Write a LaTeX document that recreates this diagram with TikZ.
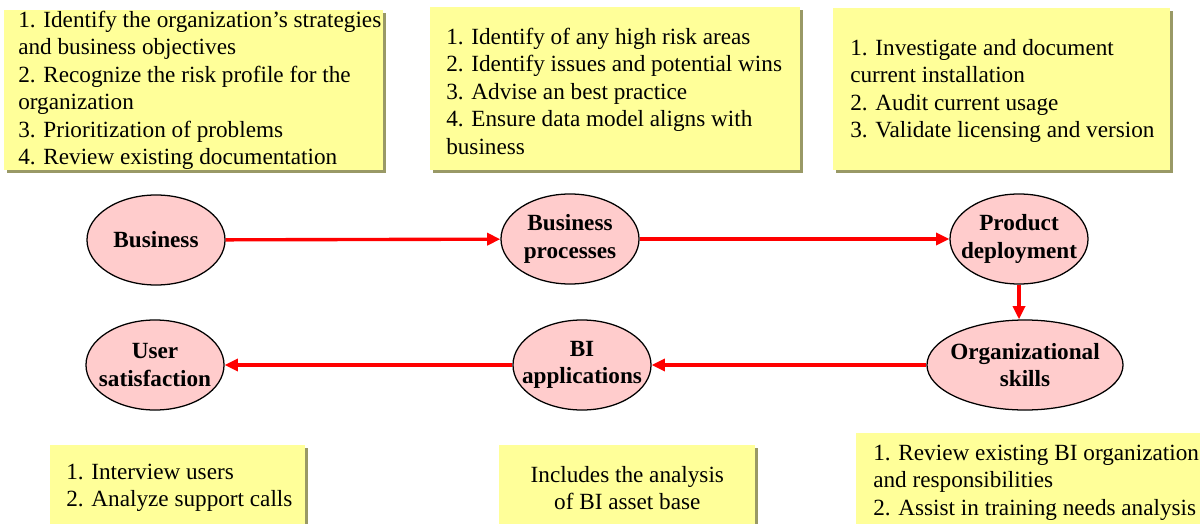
\documentclass[tikz,border=0pt]{standalone}
\usepackage{fontspec}
\setmainfont{Liberation Serif}
\usepackage{tikz}
\usetikzlibrary{arrows.meta}
\usetikzlibrary{shapes.geometric}
\usetikzlibrary{shadows}
\definecolor{notefill}{RGB}{255,255,153}
\definecolor{noteshade}{RGB}{153,153,102}
\definecolor{stagefill}{RGB}{255,204,204}

\begin{document}
\begin{tikzpicture}[x=0.025cm, y=-0.025cm,
    note/.style = {fill=notefill, inner sep=0, anchor=north west,
        drop shadow={shadow xshift=0.075cm, shadow yshift=-0.075cm, fill=noteshade, opacity=1}},
    notetext/.style = {align=left, inner sep=0, anchor=west, font=\fontsize{16.5}{19.5}\selectfont},
    main/.style = {draw, ellipse, fill=stagefill, line width=0.9pt, inner sep=-2cm,
        minimum width=3.45cm, minimum height=2.25cm, align=center,
        font=\fontsize{16.5}{19.5}\selectfont\bfseries},
    flow/.style = {red, line width=2.4pt, -{Triangle[length=0.33cm, width=0.3cm]}}]
    \clip (0,0) rectangle (1200,524);

    % notes above the top row
    \node [note, minimum width=9.475cm, minimum height=4cm] (n1) at (4, 10) {};
    \node [note, minimum width=9.25cm, minimum height=4.075cm] (n2) at (430, 7) {};
    \node [note, minimum width=8.425cm, minimum height=4.05cm] (n3) at (833, 8) {};
    \node [notetext] (t1) at ([xshift=0.35cm]n1.west) {1. Identify the organization's strategies\\and business objectives\\2. Recognize the risk profile for the\\organization\\3. Prioritization of problems\\4. Review existing documentation};
    \node [notetext] (t2) at ([xshift=0.4cm, yshift=-0.06cm]n2.west) {1. Identify of any high risk areas\\2. Identify issues and potential wins\\3. Advise an best practice\\4. Ensure data model aligns with\\business};
    \node [notetext] (t3) at ([xshift=0.425cm, yshift=-0.04cm]n3.west) {1. Investigate and document\\current installation\\2. Audit current usage\\3. Validate licensing and version};

    % notes below the bottom row
    \node [note, minimum width=6.375cm, minimum height=2.125cm] (n4) at (50, 445) {};
    \node [note, minimum width=6.4cm, minimum height=2.125cm] (n5) at (499, 445) {};
    \node [note, minimum width=8.725cm, minimum height=2.475cm] (n6) at (856, 433) {};
    \node [notetext] (t4) at ([xshift=0.4cm]n4.west) {1. Interview users\\2. Analyze support calls};
    \node [notetext, align=center, anchor=center] (t5) at (n5.center) {Includes the analysis\\of BI asset base};
    \node [notetext] (t6) at ([xshift=0.425cm]n6.west) {1. Review existing BI organization\\and responsibilities\\2. Assist in training needs analysis};

    % stages
    \node [main] (biz) at (156, 240) {Business};
    \node [main] (proc) at (570, 239) {Business\\processes};
    \node [main] (dep) at (1019, 239) {Product\\deployment};
    \node [main, minimum width=4.9cm] (skills) at (1025, 365) {Organizational\\skills};
    \node [main] (apps) at (582, 365) {BI\\applications};
    \node [main] (user) at (155, 365) {User\\satisfaction};

    \draw [flow] (biz) -- (proc);
    \draw [flow] (proc) -- (dep);
    \draw [flow] (dep.south) -- (dep.south |- skills.north);
    \draw [flow] (skills) -- (apps);
    \draw [flow] (apps) -- (user);

\end{tikzpicture}
\end{document}
